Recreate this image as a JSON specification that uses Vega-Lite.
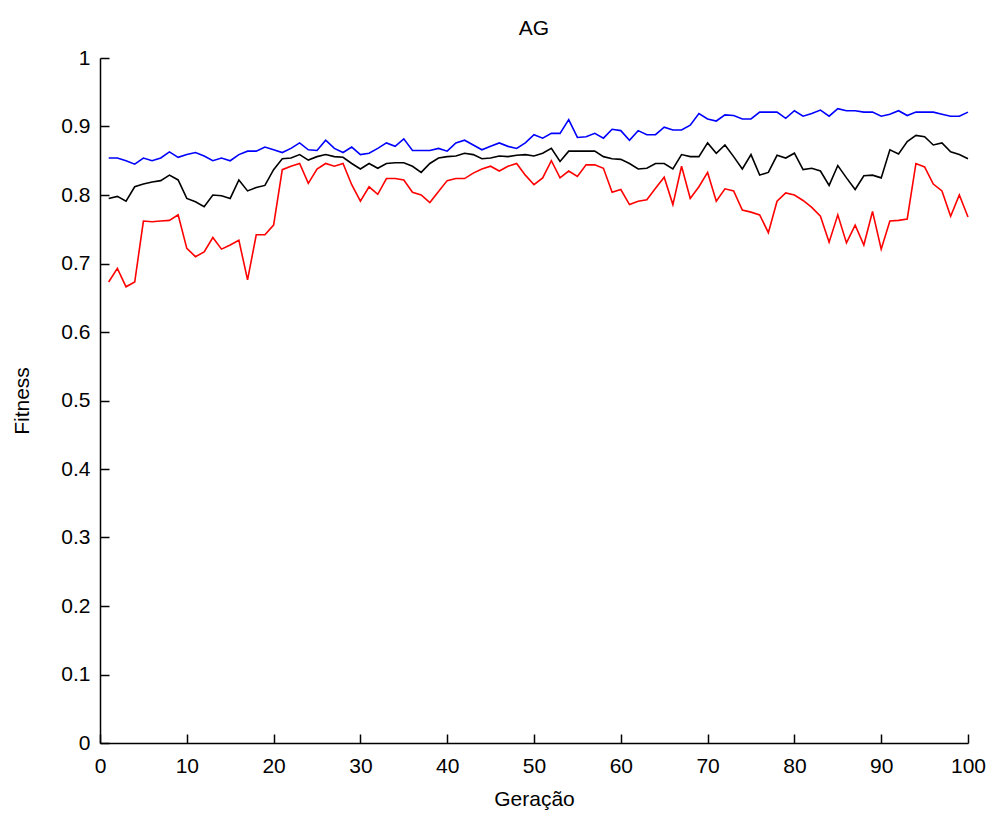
{
  "$schema": "https://vega.github.io/schema/vega-lite/v6.json",
  "autosize": "none",
  "padding": {"left": 100, "top": 58, "right": 25, "bottom": 70},
  "width": 868,
  "height": 685,
  "background": "white",
  "config": {
    "view": {"stroke": null},
    "font": "Liberation Sans",
    "axis": {"grid": false, "domainColor": "#000000", "tickColor": "#000000", "labelColor": "#000000", "titleColor": "#000000", "labelFont": "Liberation Sans", "titleFont": "Liberation Sans", "labelFontSize": 21, "titleFontSize": 21, "titleFontWeight": "normal", "tickSize": -9, "domainWidth": 1.5, "tickWidth": 1.5}
  },
  "title": {"text": "AG", "fontSize": 21, "font": "Liberation Sans", "fontWeight": "normal", "color": "#000000", "offset": 8, "anchor": "middle"},
  "datasets": {
    "fit": [
      {"g":1,"max":0.854,"media":0.795,"min":0.673},
      {"g":2,"max":0.854,"media":0.798,"min":0.693},
      {"g":3,"max":0.850,"media":0.791,"min":0.666},
      {"g":4,"max":0.845,"media":0.812,"min":0.673},
      {"g":5,"max":0.854,"media":0.816,"min":0.762},
      {"g":6,"max":0.850,"media":0.819,"min":0.761},
      {"g":7,"max":0.854,"media":0.821,"min":0.762},
      {"g":8,"max":0.863,"media":0.829,"min":0.763},
      {"g":9,"max":0.855,"media":0.822,"min":0.771},
      {"g":10,"max":0.859,"media":0.795,"min":0.722},
      {"g":11,"max":0.862,"media":0.790,"min":0.710},
      {"g":12,"max":0.857,"media":0.783,"min":0.717},
      {"g":13,"max":0.850,"media":0.800,"min":0.738},
      {"g":14,"max":0.854,"media":0.799,"min":0.721},
      {"g":15,"max":0.850,"media":0.795,"min":0.727},
      {"g":16,"max":0.859,"media":0.822,"min":0.734},
      {"g":17,"max":0.864,"media":0.806,"min":0.676},
      {"g":18,"max":0.864,"media":0.811,"min":0.742},
      {"g":19,"max":0.870,"media":0.814,"min":0.742},
      {"g":20,"max":0.866,"media":0.837,"min":0.756},
      {"g":21,"max":0.862,"media":0.853,"min":0.837},
      {"g":22,"max":0.868,"media":0.854,"min":0.842},
      {"g":23,"max":0.876,"media":0.859,"min":0.846},
      {"g":24,"max":0.866,"media":0.851,"min":0.817},
      {"g":25,"max":0.865,"media":0.856,"min":0.838},
      {"g":26,"max":0.880,"media":0.859,"min":0.846},
      {"g":27,"max":0.868,"media":0.856,"min":0.842},
      {"g":28,"max":0.862,"media":0.855,"min":0.846},
      {"g":29,"max":0.870,"media":0.846,"min":0.815},
      {"g":30,"max":0.859,"media":0.838,"min":0.791},
      {"g":31,"max":0.861,"media":0.846,"min":0.812},
      {"g":32,"max":0.868,"media":0.839,"min":0.801},
      {"g":33,"max":0.876,"media":0.846,"min":0.824},
      {"g":34,"max":0.871,"media":0.847,"min":0.824},
      {"g":35,"max":0.882,"media":0.847,"min":0.822},
      {"g":36,"max":0.865,"media":0.842,"min":0.804},
      {"g":37,"max":0.865,"media":0.833,"min":0.800},
      {"g":38,"max":0.865,"media":0.846,"min":0.789},
      {"g":39,"max":0.868,"media":0.854,"min":0.805},
      {"g":40,"max":0.864,"media":0.856,"min":0.821},
      {"g":41,"max":0.876,"media":0.857,"min":0.824},
      {"g":42,"max":0.880,"media":0.861,"min":0.824},
      {"g":43,"max":0.873,"media":0.859,"min":0.832},
      {"g":44,"max":0.866,"media":0.853,"min":0.838},
      {"g":45,"max":0.871,"media":0.854,"min":0.842},
      {"g":46,"max":0.876,"media":0.857,"min":0.835},
      {"g":47,"max":0.871,"media":0.856,"min":0.842},
      {"g":48,"max":0.868,"media":0.858,"min":0.846},
      {"g":49,"max":0.876,"media":0.859,"min":0.829},
      {"g":50,"max":0.888,"media":0.857,"min":0.815},
      {"g":51,"max":0.883,"media":0.861,"min":0.825},
      {"g":52,"max":0.890,"media":0.868,"min":0.850},
      {"g":53,"max":0.890,"media":0.849,"min":0.825},
      {"g":54,"max":0.910,"media":0.864,"min":0.835},
      {"g":55,"max":0.884,"media":0.864,"min":0.827},
      {"g":56,"max":0.885,"media":0.864,"min":0.844},
      {"g":57,"max":0.890,"media":0.864,"min":0.844},
      {"g":58,"max":0.883,"media":0.856,"min":0.839},
      {"g":59,"max":0.896,"media":0.853,"min":0.804},
      {"g":60,"max":0.894,"media":0.852,"min":0.808},
      {"g":61,"max":0.880,"media":0.846,"min":0.786},
      {"g":62,"max":0.894,"media":0.838,"min":0.791},
      {"g":63,"max":0.888,"media":0.839,"min":0.793},
      {"g":64,"max":0.888,"media":0.846,"min":0.810},
      {"g":65,"max":0.899,"media":0.846,"min":0.826},
      {"g":66,"max":0.895,"media":0.838,"min":0.786},
      {"g":67,"max":0.895,"media":0.859,"min":0.842},
      {"g":68,"max":0.902,"media":0.856,"min":0.795},
      {"g":69,"max":0.919,"media":0.856,"min":0.812},
      {"g":70,"max":0.911,"media":0.876,"min":0.833},
      {"g":71,"max":0.908,"media":0.861,"min":0.791},
      {"g":72,"max":0.917,"media":0.873,"min":0.809},
      {"g":73,"max":0.916,"media":0.856,"min":0.806},
      {"g":74,"max":0.911,"media":0.838,"min":0.778},
      {"g":75,"max":0.911,"media":0.859,"min":0.775},
      {"g":76,"max":0.921,"media":0.829,"min":0.771},
      {"g":77,"max":0.921,"media":0.833,"min":0.745},
      {"g":78,"max":0.921,"media":0.858,"min":0.791},
      {"g":79,"max":0.912,"media":0.854,"min":0.803},
      {"g":80,"max":0.923,"media":0.861,"min":0.800},
      {"g":81,"max":0.915,"media":0.837,"min":0.792},
      {"g":82,"max":0.919,"media":0.839,"min":0.782},
      {"g":83,"max":0.924,"media":0.835,"min":0.769},
      {"g":84,"max":0.915,"media":0.814,"min":0.731},
      {"g":85,"max":0.926,"media":0.843,"min":0.771},
      {"g":86,"max":0.923,"media":0.825,"min":0.730},
      {"g":87,"max":0.923,"media":0.808,"min":0.756},
      {"g":88,"max":0.921,"media":0.828,"min":0.727},
      {"g":89,"max":0.921,"media":0.829,"min":0.776},
      {"g":90,"max":0.915,"media":0.825,"min":0.721},
      {"g":91,"max":0.918,"media":0.866,"min":0.762},
      {"g":92,"max":0.923,"media":0.860,"min":0.763},
      {"g":93,"max":0.916,"media":0.878,"min":0.765},
      {"g":94,"max":0.921,"media":0.887,"min":0.846},
      {"g":95,"max":0.921,"media":0.885,"min":0.841},
      {"g":96,"max":0.921,"media":0.873,"min":0.816},
      {"g":97,"max":0.918,"media":0.876,"min":0.806},
      {"g":98,"max":0.915,"media":0.863,"min":0.769},
      {"g":99,"max":0.915,"media":0.859,"min":0.800},
      {"g":100,"max":0.921,"media":0.853,"min":0.768}
    ]
  },
  "data": {"name": "fit"},
  "transform": [{"fold": ["max", "media", "min"], "as": ["serie", "valor"]}],
  "mark": {"type": "line", "strokeWidth": 1.6, "interpolate": "linear"},
  "encoding": {
    "x": {"field": "g", "type": "quantitative", "title": "Geração",
      "scale": {"domain": [0, 100], "nice": false, "zero": false},
      "axis": {"values": [0,10,20,30,40,50,60,70,80,90,100], "labelPadding": 21, "titlePadding": 12, "labelFlush": false}},
    "y": {"field": "valor", "type": "quantitative", "title": "Fitness",
      "scale": {"domain": [0, 1], "nice": false},
      "axis": {"values": [0,0.1,0.2,0.3,0.4,0.5,0.6,0.7,0.8,0.9,1], "format": "~g", "labelPadding": 19, "titlePadding": 28, "labelFlush": false}},
    "color": {"field": "serie", "type": "nominal", "legend": null,
      "scale": {"domain": ["max", "media", "min"], "range": ["#0000ff", "#000000", "#ff0000"]}}
  }
}
